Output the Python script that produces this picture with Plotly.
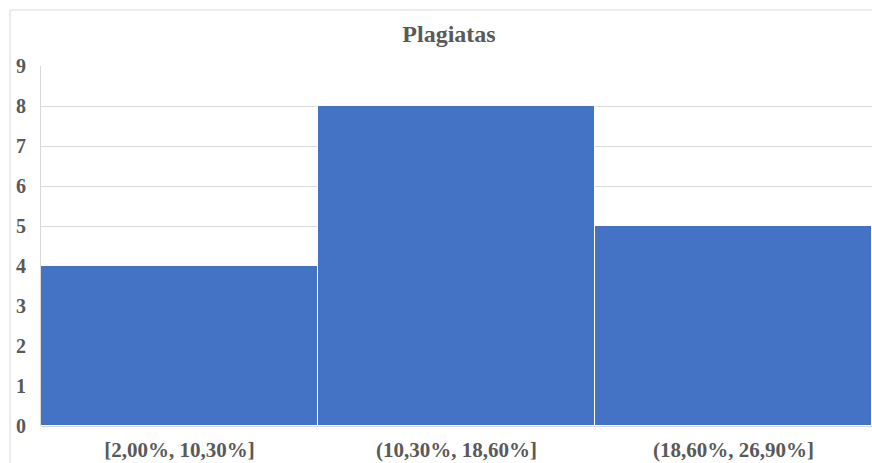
import plotly.graph_objects as go

# Histogram bins and counts
bins = ["[2,00%, 10,30%]", "(10,30%, 18,60%]", "(18,60%, 26,90%]"]
counts = [4, 8, 5]
y_ticks = list(range(0, 10))

W, H = 872, 463
font_family = "Liberation Serif"
text_color = "#595959"

fig = go.Figure(
    go.Bar(
        x=bins,
        y=counts,
        marker=dict(color="#4472C4", line=dict(color="#ffffff", width=1)),
        hoverinfo="x+y",
    )
)

fig.update_layout(
    width=W,
    height=H,
    margin=dict(l=41, r=0, t=66, b=37),
    paper_bgcolor="white",
    plot_bgcolor="white",
    bargap=0,
    showlegend=False,
    font=dict(family=font_family, color=text_color, size=21),
    title=dict(
        text="<b>Plagiatas</b>",
        x=449 / W,
        xanchor="center",
        xref="container",
        y=1 - 34 / H,
        yanchor="middle",
        yref="container",
        font=dict(family=font_family, size=24, color=text_color),
    ),
    xaxis=dict(
        showgrid=False,
        showline=False,
        ticks="",
        ticklabelstandoff=9,
        tickfont=dict(family=font_family, size=21, color=text_color, weight="bold"),
    ),
    yaxis=dict(
        range=[0, 9],
        tickvals=y_ticks,
        showgrid=True,
        gridcolor="#d9d9d9",
        gridwidth=1,
        zeroline=True,
        zerolinecolor="#d9d9d9",
        showline=True,
        linecolor="#d9d9d9",
        ticks="",
        ticklabelstandoff=10,
        tickfont=dict(family=font_family, size=20, color=text_color, weight="bold"),
    ),
    shapes=[
        dict(
            type="rect",
            xref="paper",
            yref="paper",
            x0=(10 - 41) / (W - 41),
            x1=1.05,
            y0=-0.2,
            y1=1 + (66 - 10) / (426 - 66),
            line=dict(color="#d9d9d9", width=1),
            fillcolor="rgba(0,0,0,0)",
            layer="below",
        )
    ],
)

fig.write_html("out.html")
